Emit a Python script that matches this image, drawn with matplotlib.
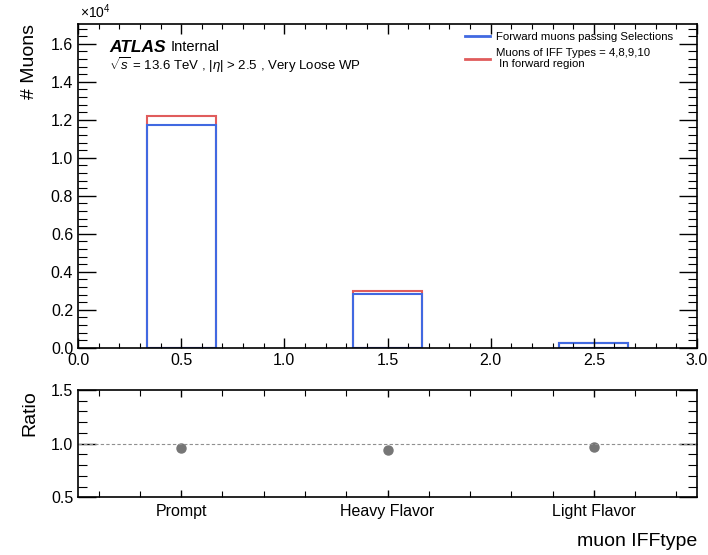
import matplotlib
matplotlib.use("Agg")
import matplotlib.pyplot as plt
from matplotlib.ticker import MultipleLocator, FixedLocator, FuncFormatter
from matplotlib.lines import Line2D

plt.rcParams['font.family'] = ['Liberation Sans', 'DejaVu Sans']
plt.rcParams['mathtext.fontset'] = 'custom'
plt.rcParams['mathtext.rm'] = 'Liberation Sans'
plt.rcParams['mathtext.it'] = 'Liberation Sans:italic'

# Data
bin_centers = [0.5, 1.5, 2.5]
bin_width = 1.0 / 3.0
categories = ["Prompt", "Heavy Flavor", "Light Flavor"]
selected_counts = [11740, 2840, 230]      # Forward muons passing Selections (blue)
iff_counts = [12195, 2985, 240]           # Muons of IFF Types = 4,8,9,10 (red)
ratio_values = [0.962, 0.944, 0.965]

blue = '#4169e1'
red = '#e05c5c'

fig = plt.figure(figsize=(7.08, 5.55), dpi=100)
ax = fig.add_axes([78/708, 1-347.7/555, (697-78)/708, (347.7-24)/555])
rax = fig.add_axes([78/708, 1-497.3/555, (697-78)/708, (497.3-390)/555])

ax.bar(bin_centers, iff_counts, width=bin_width, fill=False, edgecolor=red, linewidth=1.5)
ax.bar(bin_centers, selected_counts, width=bin_width, fill=False, edgecolor=blue, linewidth=1.5)

ax.set_xlim(0, 3)
ax.set_ylim(0, 17040)
ax.xaxis.set_major_locator(MultipleLocator(0.5))
ax.xaxis.set_minor_locator(MultipleLocator(0.1))
ax.yaxis.set_major_locator(MultipleLocator(2000))
ax.yaxis.set_minor_locator(MultipleLocator(400))
ax.xaxis.set_major_formatter(FuncFormatter(lambda v, p: f"{v:.1f}"))
ax.yaxis.set_major_formatter(FuncFormatter(lambda v, p: f"{v/1e4:.1f}"))
ax.tick_params(which='both', direction='in', top=True, right=True, labelsize=11.5)
ax.tick_params(axis='y', which='major', length=13, width=1.0)
ax.tick_params(axis='y', which='minor', length=6.5, width=0.8)
ax.tick_params(axis='x', which='major', length=7, width=1.0)
ax.tick_params(axis='x', which='minor', length=3.5, width=0.8)
ax.tick_params(axis='x', pad=4)
ax.set_ylabel("# Muons", fontsize=14, loc='top', labelpad=9)
for s in ax.spines.values():
    s.set_linewidth(1.2)

fig.text(80/708, 1-12/555, r"$\times10^{4}$", fontsize=10, va='center', ha='left')

fig.text(109/708, 1-47/555, "ATLAS", fontsize=12.5,
         fontweight='bold', fontstyle='italic', va='center', ha='left')
fig.text(171/708, 1-47/555, "Internal", fontsize=10.5, va='center', ha='left')
fig.text(109/708, 1-65/555, r"$\sqrt{s}$ = 13.6 TeV , $|\eta|$ > 2.5 , Very Loose WP",
         fontsize=9.5, va='center', ha='left')

h = [Line2D([], [], color=blue, lw=2), Line2D([], [], color=red, lw=2)]
l = ["Forward muons passing Selections", "Muons of IFF Types = 4,8,9,10\n In forward region"]
fig.legend(h, l, loc='upper left', bbox_to_anchor=(465/708, 1-31.5/555), frameon=False,
           fontsize=8.2, handlelength=2.2, handletextpad=0.55, labelspacing=0.55,
           borderaxespad=0, borderpad=0)

# Ratio panel
rax.plot(bin_centers, ratio_values, 'o', color='#767676', markersize=6.5)
rax.axhline(1.0, color='#909090', linestyle='--', linewidth=0.8, dashes=(3, 2))
rax.set_xlim(0, 3)
rax.set_ylim(0.5, 1.5)
rax.xaxis.set_major_locator(FixedLocator(bin_centers))
rax.xaxis.set_minor_locator(FixedLocator([0.1, 0.3, 0.7, 0.9, 1.1, 1.3, 1.7, 1.9, 2.1, 2.3, 2.7, 2.9]))
rax.set_xticklabels(categories)
rax.yaxis.set_major_locator(MultipleLocator(0.5))
rax.yaxis.set_minor_locator(MultipleLocator(0.1))
rax.yaxis.set_major_formatter(FuncFormatter(lambda v, p: f"{v:.1f}"))
rax.tick_params(which='both', direction='in', top=True, right=True, labelsize=11.5)
rax.tick_params(axis='y', which='major', length=13, width=1.0)
rax.tick_params(axis='y', which='minor', length=6.5, width=0.8)
rax.tick_params(axis='x', which='major', length=5, width=1.0, pad=5)
rax.tick_params(axis='x', which='minor', length=4, width=0.8)
rax.set_ylabel("Ratio", fontsize=14, loc='top', labelpad=9)
rax.set_xlabel("muon IFFtype", fontsize=14, loc='right', labelpad=10)
for s in rax.spines.values():
    s.set_linewidth(1.2)

fig.savefig("out.png", dpi=100)
